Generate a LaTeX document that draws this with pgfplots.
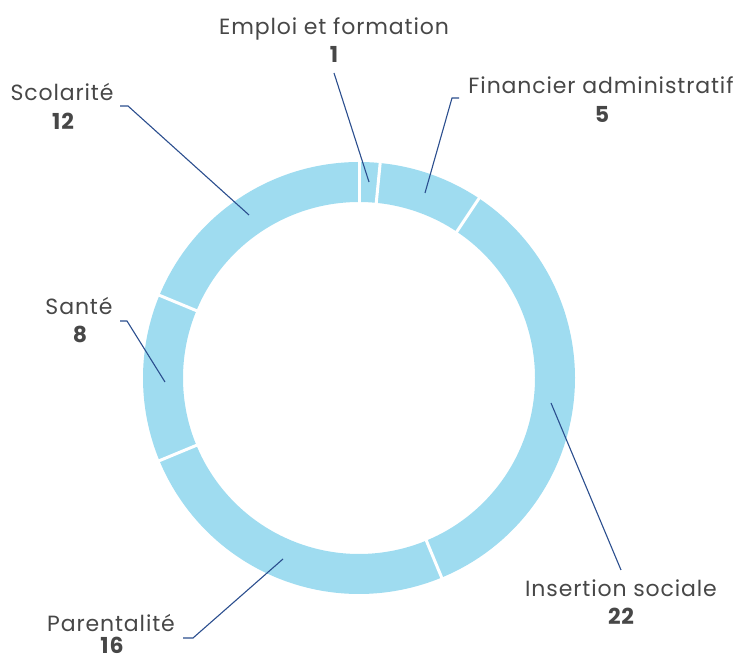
\documentclass[border=0pt]{standalone}
\usepackage{pgfplots}
\pgfplotsset{compat=1.18}
\usepackage{fontspec}
\setmainfont{Poppins}[LetterSpace=4]
\definecolor{ringblue}{HTML}{9FDCF0}
\definecolor{leader}{HTML}{2B4E8E}
\definecolor{txt}{HTML}{474747}

% pixel (px,py) of the reference -> axis units (1pt), centre of the ring at (359,378)
\newcommand\lbl[3]{%
  \node[anchor=base, inner sep=0pt, text=txt, font=\fontsize{22}{24}\selectfont] at (axis cs:{#1-359},{378-#2}) {#3};
}
\newcommand\num[3]{%
  \node[anchor=base, inner sep=0pt, text=txt, font=\fontsize{22}{24}\selectfont\bfseries] at (axis cs:{#1-359},{378-#2}) {#3};
}

\begin{document}
\begin{tikzpicture}
\begin{axis}[
  x=1pt, y=1pt,
  xmin=-359, xmax=382, ymin=-282, ymax=378,
  hide axis, clip=false,
  ring/.style={color=ringblue, line width=40pt, samples=120, no marks},
]
% ring segments, clockwise from the top (64 in total: 5.625 degrees each)
\def\cum{0}
\pgfplotsforeachungrouped \val in {1,5,22,16,8,12}{%
  \pgfmathsetmacro\aStart{90-\cum*5.625}%
  \pgfmathsetmacro\aEnd{90-(\cum+\val)*5.625}%
  \edef\temp{\noexpand\addplot[ring, domain=\aEnd:\aStart] ({196*cos(x)},{196*sin(x)});}%
  \temp
  \pgfmathsetmacro\cum{\cum+\val}%
}
% white separators
\pgfplotsforeachungrouped \cc in {0,1,6,28,44,52}{%
  \pgfmathsetmacro\xa{172*cos(90-\cc*5.625)}%
  \pgfmathsetmacro\ya{172*sin(90-\cc*5.625)}%
  \pgfmathsetmacro\xb{220*cos(90-\cc*5.625)}%
  \pgfmathsetmacro\yb{220*sin(90-\cc*5.625)}%
  \edef\temp{\noexpand\draw[white, line width=3pt] (axis cs:\xa,\ya) -- (axis cs:\xb,\yb);}%
  \temp
}

% leader lines
\draw[leader, line width=1.1pt] (axis cs:-25,305) -- (axis cs:10,196);
\draw[leader, line width=1.1pt] (axis cs:100,280) -- (axis cs:93,280) -- (axis cs:66,185);
\draw[leader, line width=1.1pt] (axis cs:192,-25) -- (axis cs:262,-192);
\draw[leader, line width=1.1pt] (axis cs:-176,-260) -- (axis cs:-166,-260) -- (axis cs:-76,-181);
\draw[leader, line width=1.1pt] (axis cs:-239,57) -- (axis cs:-232,57) -- (axis cs:-194,-4);
\draw[leader, line width=1.1pt] (axis cs:-239,272) -- (axis cs:-231,272) -- (axis cs:-110,163);

% labels
\lbl{334}{35}{Emploi et formation}
\num{334}{63}{1}
\lbl{601}{94}{Financier administratif}
\num{602}{123}{5}
\lbl{621}{597}{Insertion sociale}
\num{621}{625}{22}
\lbl{111}{632}{Parentalité}
\num{112}{654}{16}
\lbl{79}{315}{Santé}
\num{80}{343}{8}
\lbl{62}{101}{Scolarité}
\num{63}{130}{12}
\end{axis}
\pgfresetboundingbox
\path (current axis.south west) rectangle (current axis.north east);
\end{tikzpicture}
\end{document}
